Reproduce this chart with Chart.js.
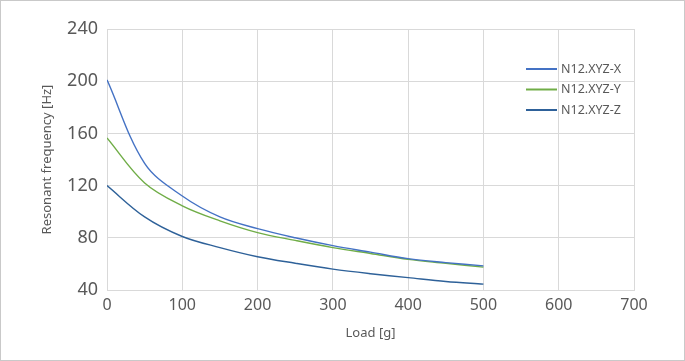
<!DOCTYPE html>
<html lang="en">
<head>
  <meta charset="UTF-8" />
  <title>Resonant frequency vs load</title>
  <script src="https://cdn.jsdelivr.net/npm/chart.js"></script>
  <style>
    body {
      margin: 0;
      background: white;
    }
    #wrap {
      position: relative;
      width: 685px;
      height: 361px;
    }
  </style>
</head>
<body>
  <div id="wrap"><canvas id="chart"></canvas></div>

  <script>
    // values
    const loads = [0, 50, 100, 150, 200, 250, 300, 350, 400, 450, 500];
    const freqX = [201, 137, 112, 96, 87, 80, 74, 69, 64, 61, 58.5];
    const freqY = [156.5, 122, 104.5, 93, 84, 78, 72.5, 68, 63.5, 60.5, 57.5];
    const freqZ = [120, 96, 81, 72.5, 65.5, 60.5, 56, 52.5, 49.5, 46.5, 44.5];
    const seriesNames = ['N12.XYZ-X', 'N12.XYZ-Y', 'N12.XYZ-Z'];
    const seriesColors = ['#4472c4', '#70ad47', '#2e6199'];

    const FONT = '"Noto Sans", sans-serif';
    const TEXT = '#595959';
    const GRID = '#d9d9d9';

    const toPoints = vals => loads.map((l, i) => ({ x: l, y: vals[i] }));

    // white background + thin frame round the whole picture
    const framePlugin = {
      id: 'frame',
      beforeDraw(chart) {
        const c = chart.ctx;
        c.save();
        c.fillStyle = '#fff';
        c.fillRect(0, 0, chart.width, chart.height);
        c.strokeStyle = '#c9c9c9';
        c.lineWidth = 1;
        c.strokeRect(0.5, 0.5, chart.width - 1, chart.height - 1);
        c.restore();
      }
    };

    // legend drawn inside the plot area, like the original
    const innerLegend = {
      id: 'innerLegend',
      afterDraw(chart) {
        const c = chart.ctx;
        const area = chart.chartArea;
        const x0 = area.right - 108;
        let y = area.top + 40;
        c.save();
        c.font = '12.5px ' + FONT;
        c.textBaseline = 'middle';
        chart.data.datasets.forEach(ds => {
          c.strokeStyle = ds.borderColor;
          c.lineWidth = 2;
          c.beginPath();
          c.moveTo(x0, y);
          c.lineTo(x0 + 31, y);
          c.stroke();
          c.fillStyle = TEXT;
          c.fillText(ds.label, x0 + 35, y);
          y += 20.5;
        });
        c.restore();
      }
    };

    new Chart(document.getElementById('chart'), {
      type: 'line',
      data: {
        datasets: [freqX, freqY, freqZ].map((vals, i) => ({
          label: seriesNames[i],
          data: toPoints(vals),
          borderColor: seriesColors[i],
          backgroundColor: seriesColors[i],
          borderWidth: 1.4,
          pointRadius: 0,
          fill: false,
          tension: 0.35
        }))
      },
      options: {
        animation: false,
        responsive: true,
        maintainAspectRatio: false,
        layout: { padding: { left: 0, top: 29, right: 51, bottom: 0 } },
        plugins: {
          legend: { display: false },
          tooltip: { enabled: false }
        },
        scales: {
          x: {
            type: 'linear',
            min: 0,
            max: 700,
            ticks: { stepSize: 100, color: TEXT, padding: 6, font: { family: FONT, size: 16 } },
            grid: { color: GRID, drawTicks: false },
            border: { color: GRID },
            title: {
              display: true,
              text: 'Load [g]',
              color: TEXT,
              font: { family: FONT, size: 13 },
              padding: { top: 4, bottom: 20 }
            },
            afterFit: s => { s.height = 71; }
          },
          y: {
            min: 40,
            max: 240,
            ticks: { stepSize: 40, color: TEXT, padding: 9, font: { family: FONT, size: 18 } },
            grid: { color: GRID, drawTicks: false },
            border: { color: GRID },
            title: {
              display: true,
              text: 'Resonant frequency [Hz]',
              color: TEXT,
              font: { family: FONT, size: 13 },
              padding: { top: 39, bottom: 0 }
            },
            afterFit: s => { s.width = 107; }
          }
        }
      },
      plugins: [framePlugin, innerLegend]
    });
  </script>
</body>
</html>
